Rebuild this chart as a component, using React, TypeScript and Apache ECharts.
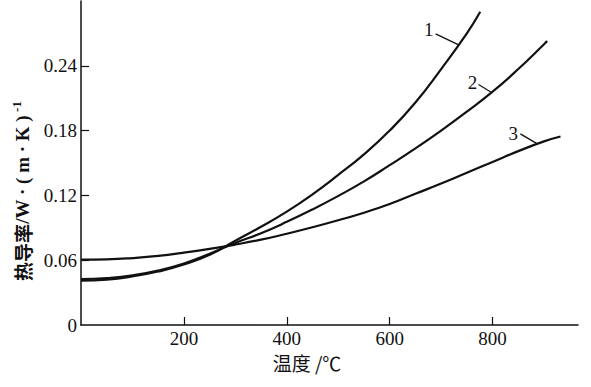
import React, { useEffect, useRef } from "react";
import * as echarts from "echarts";

const xTickValues = [200, 400, 600, 800];
const yTickLabelValues = [0, 0.06, 0.12, 0.18, 0.24];
const yTickMarkValues = [0.06, 0.12, 0.18, 0.24];
const curveNames = ["1", "2", "3"];

const curve1Temp = [0, 50, 100, 150, 200, 250, 300, 350, 400, 450, 500, 550, 600, 650, 700, 750, 776];
const curve1Val = [0.041, 0.042, 0.045, 0.0495, 0.056, 0.065, 0.078, 0.091, 0.105, 0.121, 0.139, 0.158, 0.18, 0.206, 0.237, 0.27, 0.29];

const curve2Temp = [0, 50, 100, 150, 200, 250, 300, 350, 400, 450, 500, 550, 600, 650, 700, 750, 800, 850, 900, 906];
const curve2Val = [0.0425, 0.0435, 0.046, 0.0505, 0.057, 0.066, 0.076, 0.085, 0.0955, 0.107, 0.1195, 0.133, 0.148, 0.1635, 0.18, 0.1975, 0.216, 0.237, 0.26, 0.263];

const curve3Temp = [0, 50, 100, 150, 200, 250, 300, 350, 400, 450, 500, 550, 600, 650, 700, 750, 800, 850, 900, 932];
const curve3Val = [0.0605, 0.0608, 0.062, 0.064, 0.067, 0.0705, 0.0745, 0.079, 0.0845, 0.0905, 0.097, 0.104, 0.112, 0.1215, 0.131, 0.141, 0.151, 0.161, 0.17, 0.1745];

const labelAnchorTemp = [734, 798, 887];

const curves = [
  { t: curve1Temp, v: curve1Val },
  { t: curve2Temp, v: curve2Val },
  { t: curve3Temp, v: curve3Val },
];

function interp(t: number[], v: number[], x: number) {
  for (let i = 0; i < t.length - 1; i++) {
    if (x >= t[i] && x <= t[i + 1]) {
      const r = (x - t[i]) / (t[i + 1] - t[i]);
      return v[i] + r * (v[i + 1] - v[i]);
    }
  }
  return v[v.length - 1];
}

const INK = "#111";
const SERIF = "Liberation Serif";
const CJK = "Noto Sans CJK SC";

export default function App() {
  const ref = useRef<HTMLDivElement>(null);
  useEffect(() => {
    document.body.style.margin = "0";
    const chart = echarts.init(ref.current!, null, { renderer: "svg" });
    chart.setOption({
      animation: false,
      backgroundColor: "#fff",
      grid: { left: 81, right: 13, top: 1, bottom: 62, outerBoundsMode: "none" },
      xAxis: {
        type: "value",
        min: 0,
        max: 966,
        interval: 200,
        axisLine: { show: true, lineStyle: { color: INK, width: 1.5 } },
        axisTick: { show: true, inside: true, length: 8, customValues: xTickValues, lineStyle: { color: INK, width: 1.2 } },
        axisLabel: { customValues: xTickValues, color: INK, fontFamily: SERIF, fontSize: 19, lineHeight: 16, margin: 5 },
        splitLine: { show: false },
      },
      yAxis: {
        type: "value",
        min: 0,
        max: 0.3,
        interval: 0.06,
        axisLine: { show: true, lineStyle: { color: INK, width: 1.5 } },
        axisTick: { show: true, inside: true, length: 8, customValues: yTickMarkValues, lineStyle: { color: INK, width: 1.2 } },
        axisLabel: {
          customValues: yTickLabelValues,
          color: INK,
          fontFamily: SERIF,
          fontSize: 19,
          margin: 4,
          formatter: (v: number) => (v === 0 ? "0" : v.toFixed(2)),
        },
        splitLine: { show: false },
      },
      series: curves.map((c, i) => ({
        type: "line",
        name: curveNames[i],
        data: c.t.map((t, j) => [t, c.v[j]]),
        smooth: true,
        symbol: "none",
        lineStyle: { color: INK, width: 2.2 },
      })),
    });

    const textOff = [[-30, -15], [-19, -10], [-24, -10]];
    const leadOff = [[-23, -11], [-13, -8], [-17, -10]];
    const graphics: any[] = [];
    curves.forEach((c, i) => {
      const tv = labelAnchorTemp[i];
      const p = chart.convertToPixel({ gridIndex: 0 }, [tv, interp(c.t, c.v, tv)]) as number[];
      graphics.push({
        type: "line",
        shape: { x1: p[0], y1: p[1], x2: p[0] + leadOff[i][0], y2: p[1] + leadOff[i][1] },
        style: { stroke: INK, lineWidth: 1.3 },
      });
      graphics.push({
        type: "text",
        x: p[0] + textOff[i][0],
        y: p[1] + textOff[i][1],
        style: { text: curveNames[i], fill: INK, fontFamily: SERIF, fontSize: 19, align: "center", verticalAlign: "middle" },
      });
    });
    graphics.push({
      type: "text",
      x: 307,
      y: 362,
      style: { text: "温度 /℃", fill: INK, fontFamily: CJK, fontSize: 19, align: "center", verticalAlign: "middle" },
    });
    graphics.push({
      type: "text",
      x: 22,
      y: 191,
      rotation: Math.PI / 2,
      style: {
        text: "{a|热导率}{b|/W · ( m · K )}{c| -1}",
        align: "center",
        verticalAlign: "middle",
        rich: {
          a: { fontFamily: CJK, fontSize: 19, fontWeight: "bold", fill: INK, lineHeight: 24 },
          b: { fontFamily: SERIF, fontSize: 19, fontWeight: "bold", fill: INK, lineHeight: 24 },
          c: { fontFamily: SERIF, fontSize: 13, fontWeight: "bold", fill: INK, lineHeight: 24, verticalAlign: "top" },
        },
      },
    });
    chart.setOption({ graphic: graphics });
    return () => chart.dispose();
  }, []);
  return <div ref={ref} style={{ width: 591, height: 387 }} />;
}
